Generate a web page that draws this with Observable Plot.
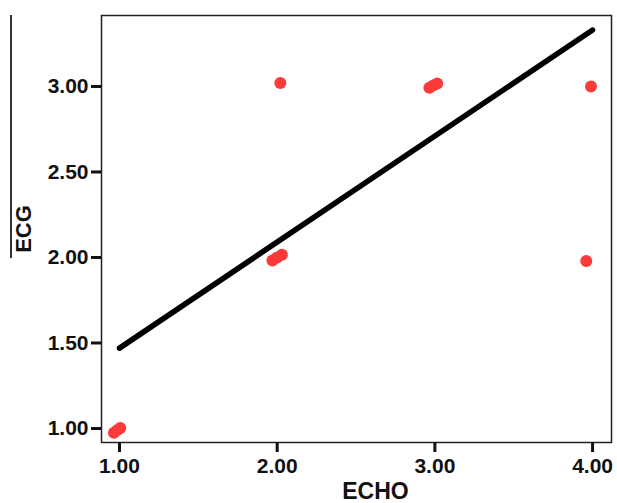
<!DOCTYPE html>
<html>
<head>
<meta charset="utf-8">
<script src="https://cdn.jsdelivr.net/npm/d3@7"></script>
<script src="https://cdn.jsdelivr.net/npm/@observablehq/plot@0.6"></script>
<style>
  html, body { margin: 0; padding: 0; background: #fff; }
  #wrap { position: relative; width: 617px; height: 503px; overflow: hidden; }
  #deco { position: absolute; left: 10px; top: 15px; width: 1.5px; height: 243px; background: #333; }
</style>
</head>
<body>
<div id="wrap"><div id="deco"></div></div>
<script>
// Observed (ECHO, ECG) points, slightly jittered as in the picture
const echo = [0.965, 0.985, 1.005, 1.97, 2.0, 2.03, 2.02, 2.965, 2.99, 3.015, 3.99, 3.96];
const ecg  = [0.975, 0.99, 1.003, 1.982, 2.0, 2.016, 3.02, 2.992, 3.005, 3.018, 3.00, 1.98];
// Fitted line endpoints
const fitEcho = [1, 4];
const fitEcg  = [1.47, 3.33];
const xTicks = [1, 2, 3, 4];
const yTicks = [1, 1.5, 2, 2.5, 3];

const pts = echo.map((x, i) => ({x, y: ecg[i]}));
const fit = fitEcho.map((x, i) => ({x, y: fitEcg[i]}));
const fmt = d3.format(".2f");

const chart = Plot.plot({
  width: 617,
  height: 503,
  marginLeft: 101,
  marginTop: 15,
  marginRight: 6,
  marginBottom: 61,
  style: {fontFamily: "Liberation Sans, Arial, sans-serif", background: "#fff", color: "#111"},
  x: {domain: [0.886, 4.12], ticks: xTicks},
  y: {domain: [0.918, 3.415], ticks: yTicks},
  marks: [
    Plot.frame({stroke: "#222", strokeWidth: 1.5}),
    Plot.axisX({ticks: xTicks, tickFormat: fmt, tickSize: 10, strokeWidth: 3, tickPadding: 6,
      fontSize: 21, fontWeight: "bold", label: null}),
    Plot.axisY({ticks: yTicks, tickFormat: fmt, tickSize: 10, strokeWidth: 3, tickPadding: 3,
      fontSize: 21, fontWeight: "bold", label: null}),
    Plot.line(fit, {x: "x", y: "y", stroke: "#000", strokeWidth: 5.5, strokeLinecap: "round"}),
    Plot.dot(pts, {x: "x", y: "y", r: 6, fill: "#fb3a3a", stroke: "none"}),
    Plot.text(["ECHO"], {frameAnchor: "bottom", dx: 19, dy: 56, lineAnchor: "bottom",
      fontSize: 23, fontWeight: "bold", fill: "#111"}),
    Plot.text(["ECG"], {frameAnchor: "left", dx: -78, rotate: -90, textAnchor: "middle",
      fontSize: 22, fontWeight: "bold", fill: "#111"})
  ]
});
document.getElementById("wrap").prepend(chart);
</script>
</body>
</html>
